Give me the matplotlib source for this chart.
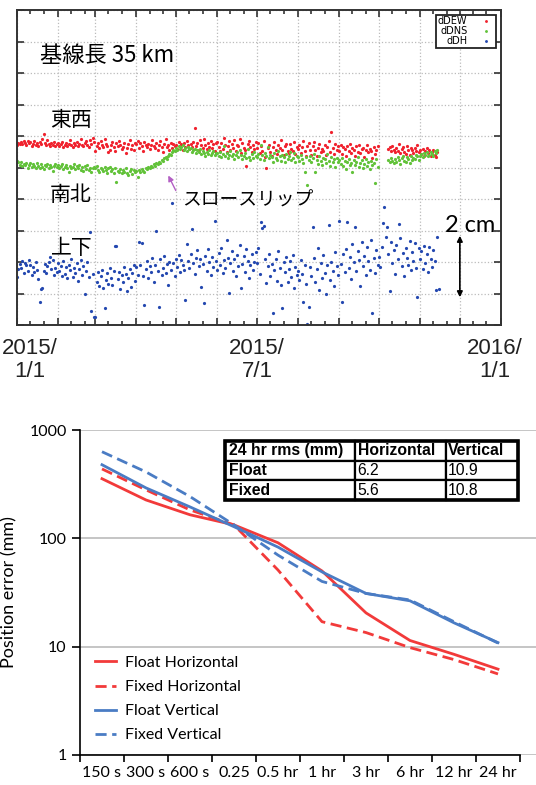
import numpy as np
import matplotlib
matplotlib.use("Agg")
import matplotlib.pyplot as plt
import matplotlib.dates as mdates
from matplotlib.patches import Rectangle
from matplotlib.ticker import FixedLocator, NullLocator, NullFormatter, FixedFormatter

nan = float("nan")

# ---- top panel: daily baseline components in mm (one inner list per month of 2015) ----
month_starts = ["2015-01-01", "2015-02-01", "2015-03-01", "2015-04-01", "2015-05-01", "2015-06-01",
                "2015-07-01", "2015-08-01", "2015-09-01", "2015-10-01", "2015-11-01"]

dew = [
    [57.2, 57.8, 57.4, 58.1, 57.6, 58.3, 57.9, 57.1, 58.5, 57.7, 58.0, 56.9, 57.5, 58.4, 57.3, 57.8,
     56.8, 58.2, 57.6, 59.1, 60.6, 57.9, 57.2, 58.6, 57.4, 56.7, 57.9, 57.3, 58.1, 56.9, 57.6],
    [57.8, 56.9, 57.4, 58.2, 56.6, 57.3, 57.9, 56.8, 57.5, 58.6, 57.1, 56.4, 57.7, 57.2, 58.0, 56.9,
     57.5, 59.0, 57.3, 56.7, 57.9, 58.4, 57.0, 56.5, 58.8, 57.6, 59.3, 58.1],
    [55.3, 56.9, 57.8, 56.2, 58.4, 57.1, 56.5, 59.2, 57.6, 56.8, 54.8, 55.6, 57.3, 58.0, 56.4, 55.1,
     57.7, 56.9, 58.3, 57.2, 55.9, 56.6, 57.9, 54.7, 56.3, 57.5, 58.6, 56.0, 57.1, 55.4, 57.8],
    [57.4, 58.5, 56.2, 57.9, 56.7, 55.3, 58.1, 57.0, 56.5, 57.6, 55.8, 57.3, 58.8, 56.9, 56.1, 57.7,
     55.5, 57.2, 58.3, 56.6, 54.9, 57.5, 58.9, 56.4, 57.1, 55.7, 57.8, 56.3, 57.4, 56.8],
    [57.2, 56.0, 58.1, 56.8, 57.5, 55.6, 57.9, 56.4, 58.3, 57.0, 55.9, 57.6, 56.5, 58.0, 62.5, 56.9,
     57.7, 55.4, 58.6, 57.3, 56.2, 58.9, 57.1, 55.8, 57.8, 56.6, 58.4, 56.1, 57.4, 55.3, 57.9],
    [58.2, 56.5, 55.1, 57.7, 56.0, 59.3, 57.2, 54.8, 56.9, 58.5, 55.6, 57.4, 56.2, 58.8, 55.3, 57.0,
     56.7, 59.1, 54.6, 57.8, 56.1, 55.4, 50.6, 57.5, 58.3, 56.4, 54.9, 57.1, 55.8, 58.0],
    [56.3, 57.9, 54.5, 56.8, 55.2, 58.4, 53.4, 49.8, 56.1, 57.3, 55.0, 53.8, 56.6, 58.1, 55.5, 54.2,
     57.0, 56.2, 58.7, 55.7, 53.9, 56.9, 57.6, 55.1, 54.7, 57.4, 56.0, 55.3, 58.2, 54.4, 56.5],
    [55.8, 57.2, 54.6, 56.4, 58.5, 55.1, 53.7, 56.7, 57.8, 55.4, 54.1, 56.9, 58.0, 55.6, 53.5, 56.3,
     57.5, 54.8, 56.0, 55.2, 57.1, 53.9, 56.6, 58.3, 55.0, 61.4, 56.2, 54.4, 57.4, 55.7, 56.8],
    [55.1, 57.0, 54.3, 56.5, 55.8, 53.6, 56.9, 55.2, 57.6, 54.7, 56.1, 55.5, 53.8, 56.7, 55.0, 57.3,
     54.5, 55.9, 56.3, 53.4, 55.6, 57.1, 54.9, 56.0, 55.3, 52.9, 56.4, 54.2, 55.7, 56.8],
    [nan, nan, nan, nan, nan, nan, nan, 55.8, 56.4, 55.1, 56.9, 55.6, 54.8, 56.2, 55.3, 57.4,
     54.6, 55.9, 56.5, 55.0, 54.2, 56.7, 55.4, 53.9, 56.1, 55.7, 54.5, 56.3, 55.2, 57.0, 54.9],
    [55.6, 54.3, 55.9, 53.8, 55.2, 56.1, 54.6, 55.4, 53.6, 54.9, 55.7, 54.1, 53.3, 55.0, nan],
]

dns = [
    [52.1, 51.6, 50.9, 51.8, 50.4, 51.2, 50.7, 51.5, 49.9, 50.8, 51.3, 50.2, 51.0, 50.6, 49.8, 51.4,
     50.5, 50.0, 51.1, 50.3, 49.6, 50.9, 50.4, 51.2, 49.9, 50.7, 50.1, 48.9, 50.6, 51.0, 50.2],
    [50.8, 49.7, 50.4, 51.1, 49.5, 50.3, 50.9, 49.9, 48.6, 50.6, 49.8, 50.2, 51.0, 49.4, 50.5, 49.9,
     50.7, 49.3, 50.1, 48.8, 50.4, 49.6, 50.9, 49.2, 50.0, 48.5, 49.7, 50.3],
    [49.8, 50.4, 49.1, 48.6, 50.0, 49.5, 48.9, 50.3, 49.2, 48.4, 49.7, 50.1, 48.8, 49.4, 48.2, 49.9,
     45.4, 49.0, 48.5, 49.6, 48.1, 49.3, 48.7, 49.8, 48.3, 47.6, 48.9, 49.4, 48.0, 49.1, 48.6],
    [48.8, 47.0, 49.3, 48.5, 49.6, 49.0, 48.7, 49.9, 49.4, 50.2, 49.8, 50.6, 50.1, 51.0, 50.5, 51.4,
     51.1, 51.9, 51.5, 52.4, 52.0, 52.9, 53.3, 52.8, 53.8, 54.3, 53.9, 54.8, 55.4, 55.1],
    [56.2, 55.6, 56.8, 55.9, 56.4, 57.0, 55.7, 56.3, 55.2, 56.6, 55.8, 56.1, 54.9, 55.5, 56.0, 54.6,
     55.4, 54.8, 55.9, 54.3, 55.2, 54.7, 53.8, 55.0, 54.4, 55.6, 53.9, 54.6, 55.1, 54.0, 54.7],
    [54.5, 53.6, 55.0, 53.2, 54.2, 56.8, 53.8, 54.7, 52.9, 54.1, 55.3, 53.5, 54.4, 52.6, 53.9, 54.8,
     53.3, 55.6, 54.0, 52.8, 53.7, 54.6, 53.1, 55.9, 53.4, 52.5, 54.3, 53.0, 54.9, 53.6],
    [53.2, 54.4, 52.7, 57.1, 53.9, 52.4, 54.6, 53.5, 56.6, 52.9, 54.1, 53.3, 51.8, 54.7, 53.0, 52.5,
     55.2, 53.8, 52.2, 54.0, 53.4, 51.6, 54.3, 52.8, 53.6, 55.0, 52.3, 53.1, 54.5, 51.9, 53.7],
    [53.4, 52.1, 54.0, 52.7, 51.5, 48.6, 53.2, 44.4, 52.5, 53.8, 51.9, 52.9, 54.2, 48.6, 52.3, 51.2,
     53.6, 52.0, 50.8, 53.1, 52.6, 51.4, 54.4, 52.2, 50.6, 53.3, 51.8, 52.8, 50.2, 53.0, 51.6],
    [52.4, 51.0, 53.1, 50.4, 52.0, 49.6, 51.7, 52.8, 50.9, 51.4, 48.5, 52.5, 50.7, 51.9, 53.2, 50.2,
     51.5, 52.3, 49.9, 51.1, 52.7, 50.5, 51.8, 49.4, 52.1, 50.8, 51.3, 45.0, 52.6, 50.3],
    [nan, nan, nan, nan, nan, nan, nan, 52.4, 51.6, 53.0, 52.2, 51.5, 52.8, 51.9, 53.4, 52.5,
     51.2, 52.9, 53.6, 52.1, 51.7, 53.3, 52.6, 51.4, 53.8, 52.3, 53.1, 52.7, 54.0, 53.5, 52.4],
    [53.7, 54.3, 53.2, 54.6, 53.9, 54.8, 53.5, 54.1, 55.0, 54.4, 53.8, 55.2, 54.7, 55.4, nan],
]

dh = [
    [15.2, 17.8, 19.4, 18.1, 20.2, 16.5, 19.7, 18.9, 17.3, 20.6, 19.0, 15.8, 18.4, 16.9, 19.9, 17.6,
     14.7, 7.3, 11.4, 11.8, 17.2, 19.3, 16.4, 18.7, 20.1, 21.5, 17.9, 20.6, 15.9, 18.2, 16.7],
    [19.6, 17.1, 18.8, 15.6, 20.3, 16.2, 18.5, 14.8, 19.2, 17.4, 21.0, 15.3, 18.0, 16.6, 19.8, 13.9,
     17.7, 20.7, 16.0, 18.6, 9.8, 17.2, 20.0, 15.1, 29.5, 4.4, 16.3, 2.5],
    [2.5, 13.8, 16.9, 12.4, 15.7, 17.6, 11.9, 5.4, 14.3, 16.4, 13.1, 18.2, 15.0, 12.7, 17.3, 25.0,
     25.1, 14.6, 16.8, 11.5, 15.9, 13.6, 18.5, 16.1, 10.8, 14.9, 17.8, 12.2, 16.5, 19.0, 14.1],
    [18.3, 16.0, 26.4, 19.2, 26.1, 15.4, 6.3, 17.9, 20.4, 14.8, 18.6, 16.7, 21.3, 13.5, 19.0, 29.8,
     17.1, 5.7, 20.8, 15.9, 18.2, 22.0, 16.4, 19.5, 12.8, 20.1, 17.6, 38.7, 19.8, 15.6],
    [21.0, 18.4, 22.3, 16.9, 20.6, 19.2, 17.5, 7.9, 25.7, 20.2, 18.0, 22.6, 30.5, 19.6, 16.3, 21.4,
     23.8, 18.8, 20.9, 12.0, 19.4, 7.0, 22.0, 17.2, 24.1, 19.9, 15.8, 21.7, 18.5, 33.0, 20.4],
    [17.6, 22.8, 19.1, 24.5, 16.4, 20.7, 18.2, 26.9, 21.3, 10.2, 19.8, 23.4, 17.0, 20.9, 15.6, 22.2,
     18.7, 25.3, 11.7, 19.4, 21.8, 16.8, 24.2, 20.3, 14.9, 18.9, 22.6, 17.4, 20.0, 23.1],
    [19.6, 24.4, 16.2, 32.6, 30.8, 31.4, 21.1, 13.2, 18.7, 22.5, 15.4, 19.3, 3.8, 17.5, 20.8, 14.0,
     23.6, 18.1, 12.6, 5.4, 19.9, 16.7, 21.7, 13.7, 17.9, 20.4, 15.1, 22.3, 11.9, 18.4, 16.0],
    [17.3, 14.2, 20.5, 16.1, 7.3, 19.2, 12.9, 0.3, 5.7, 18.3, 15.5, 31.0, 21.4, 13.6, 17.8, 24.6,
     11.2, 19.7, 15.0, 22.2, 16.6, 9.7, 18.9, 31.7, 14.4, 20.1, 17.1, 12.3, 23.3, 18.6, 15.8],
    [33.0, 19.4, 7.3, 22.6, 16.8, 24.1, 32.8, 18.2, 21.5, 14.7, 25.8, 19.9, 31.0, 17.3, 23.4, 20.6,
     12.4, 26.2, 18.7, 22.0, 15.9, 24.8, 20.3, 17.6, 27.1, 3.8, 21.2, 16.4, 23.7, 19.1],
    [21.6, 18.3, 24.9, 32.4, 37.5, 27.8, 31.0, 22.5, 10.8, 26.4, 19.7, 23.8, 16.2, 25.3, 20.9, 32.0,
     27.5, 18.6, 22.7, 15.4, 24.6, 21.3, 19.0, 26.7, 17.5, 23.2, 20.4, 25.9, 18.1, 9.0, 24.3],
    [20.8, 23.5, 17.9, 25.2, 19.6, 22.4, 16.8, 24.7, 21.1, 18.5, 23.9, 20.2, 11.1, 28.0, 11.4],
]

# ---- bottom panel: position error vs session length ----
sessions = ["150 s", "300 s", "600 s", "0.25", "0.5 hr", "1 hr", "3 hr", "6 hr", "12 hr", "24 hr"]
float_h = [355, 226, 165, 133, 91, 50, 20.5, 11.4, 8.5, 6.2]
fixed_h = [437, 280, 183, 133, 51, 17, 13.5, 9.8, 7.6, 5.6]
float_v = [478, 292, 195, 128, 83, 49, 31, 26.5, 16.6, 10.9]
fixed_v = [630, 410, 243, 133, 70, 40, 31, 27, 17, 10.8]
table_cells = [["24 hr rms (mm)", "Horizontal", "Vertical"],
               ["Float", "6.2", "10.9"],
               ["Fixed", "5.6", "10.8"]]

W, H = 536, 785
CJK = ["Noto Sans CJK JP", "DejaVu Sans"]
NARROW = ["Liberation Sans Narrow", "Liberation Sans", "DejaVu Sans"]
LATO = ["Lato", "DejaVu Sans"]
RED = "#f23a3a"
BLUE = "#4a7cc4"


def month_series(months):
    days, vals = [], []
    for start, month in zip(month_starts, months):
        d0 = np.datetime64(start)
        days.extend(d0 + np.arange(len(month)))
        vals.extend(month)
    return np.array(days), np.array(vals, dtype=float)


def px(x, y):
    return x / W, 1 - y / H


fig = plt.figure(figsize=(W / 100, H / 100), dpi=100)

# ================= top panel =================
ax1 = fig.add_axes([17 / W, 1 - 325 / H, 484 / W, 315 / H])
for series, color, name in [(dew, "#f0222e", "dDEW"), (dns, "#62c23a", "dDNS"), (dh, "#2448b0", "dDH")]:
    d, v = month_series(series)
    ax1.plot(d, v, "o", ms=2.3, mew=0, color=color, label=name)

ax1.set_xlim(np.datetime64("2015-01-01"), np.datetime64("2016-01-01"))
ax1.set_ylim(0, 100)
ax1.xaxis.set_major_locator(mdates.MonthLocator())
ax1.xaxis.set_minor_locator(mdates.DayLocator(bymonthday=[11, 21]))
ax1.xaxis.set_major_formatter(NullFormatter())
ax1.set_yticks(np.arange(0, 101, 10))
ax1.yaxis.set_major_formatter(NullFormatter())
ax1.tick_params(which="both", direction="in", top=True, right=True, color="#333333", width=1.2)
ax1.tick_params(which="major", length=5)
ax1.tick_params(which="minor", length=3)
ax1.grid(True, which="major", linestyle=":", color="#bbbbbb", lw=0.9)
for s in ax1.spines.values():
    s.set_color("#333333")
    s.set_linewidth(1.4)

leg = ax1.legend(loc="upper right", bbox_to_anchor=(0.9897, 0.984), borderaxespad=0,
                 markerfirst=False, fontsize=7, handlelength=1.8, handletextpad=1.0,
                 borderpad=0.15, labelspacing=0.0, fancybox=False, edgecolor="#222222",
                 framealpha=1, markerscale=0.9)
leg.get_frame().set_linewidth(1.3)

ax1.text(0.0475, 0.857, "基線長 35 km", transform=ax1.transAxes, fontsize=16,
         family=CJK, va="center", ha="left")
ax1.text(0.068, 0.651, "東西", transform=ax1.transAxes, fontsize=15, family=CJK, va="center")
ax1.text(0.068, 0.413, "南北", transform=ax1.transAxes, fontsize=15, family=CJK, va="center")
ax1.text(0.070, 0.244, "上下", transform=ax1.transAxes, fontsize=15, family=CJK, va="center")
ax1.text(0.341, 0.397, "スロースリップ", transform=ax1.transAxes, fontsize=13.5, family=CJK,
         va="center")
ax1.annotate("", xy=(0.31, 0.4825), xytext=(0.3306, 0.419), xycoords="axes fraction",
             arrowprops=dict(arrowstyle="-|>", color="#b35fc4", lw=1, mutation_scale=8))
ax1.annotate("", xy=(0.915, 0.292), xytext=(0.915, 0.0794), xycoords="axes fraction",
             arrowprops=dict(arrowstyle="<|-|>", color="black", lw=1.2, mutation_scale=8))
fig.text(*px(445, 226), "2 cm", fontsize=17, family=LATO, va="center", ha="left")

for xc, label in [(30, "2015/\n1/1"), (257, "2015/\n7/1"), (495, "2016/\n1/1")]:
    fig.text(*px(xc, 360), label, fontsize=16, family=NARROW, ha="center", va="center",
             multialignment="center", linespacing=1.15, color="#222222")

# ================= bottom panel =================
ax2 = fig.add_axes([80 / W, 1 - 755 / H, 456 / W, 325 / H])
x = np.arange(len(sessions))
ax2.plot(x, float_h, color=RED, lw=2.0, label="Float Horizontal")
ax2.plot(x, fixed_h, color=RED, lw=2.0, ls=(0, (4, 2)), label="Fixed Horizontal")
ax2.plot(x, float_v, color=BLUE, lw=2.0, label="Float Vertical")
ax2.plot(x, fixed_v, color=BLUE, lw=2.0, ls=(0, (4, 2)), label="Fixed Vertical")

ax2.set_yscale("log")
ax2.set_ylim(1, 1000)
ax2.set_xlim(-0.5, -0.5 + 456 / 44)
ax2.yaxis.set_major_locator(FixedLocator([1, 10, 100, 1000]))
ax2.yaxis.set_major_formatter(FixedFormatter(["1", "10", "100", "1000"]))
ax2.yaxis.set_minor_locator(NullLocator())
ax2.xaxis.set_major_locator(FixedLocator(np.arange(-0.5, len(sessions), 1.0)))
ax2.xaxis.set_major_formatter(NullFormatter())
ax2.xaxis.set_minor_locator(FixedLocator(x))
ax2.xaxis.set_minor_formatter(FixedFormatter(sessions))
ax2.tick_params(axis="x", which="minor", length=0, labelsize=11.5, pad=8)
ax2.tick_params(axis="x", which="major", length=5, width=1.2, direction="out")
ax2.tick_params(axis="y", which="major", length=6, width=1.2, labelsize=11.5)
for lab in ax2.get_xticklabels(minor=True) + ax2.get_yticklabels():
    lab.set_family(LATO)
ax2.grid(True, axis="y", color="#b5b5b5", lw=1.1)
for side in ["top", "right"]:
    ax2.spines[side].set_visible(False)
ax2.spines["bottom"].set_bounds(-0.5, len(sessions) - 0.5)
ax2.spines["left"].set_linewidth(1.2)
ax2.spines["bottom"].set_linewidth(1.2)
ax2.set_ylabel("Position error (mm)", fontsize=13, family=LATO)
ax2.yaxis.set_label_coords((17 - 80) / 456, 0.5)

leg2 = ax2.legend(loc="upper left", bbox_to_anchor=(0.033, 0.305), frameon=False,
                  prop={"family": LATO, "size": 11.5}, handlelength=1.3,
                  handletextpad=0.6, labelspacing=0.62, borderpad=0, borderaxespad=0)

# rms table
tb = [(225 - 80) / 456, (755 - 500) / 325, (518 - 225) / 456, 59 / 325]
table = ax2.table(cellText=table_cells, colWidths=[130, 91, 72], cellLoc="left",
                  bbox=tb)
table.auto_set_font_size(False)
for (r, c), cell in table.get_celld().items():
    cell.set_linewidth(1.6)
    cell.set_edgecolor("black")
    cell.PAD = 0.03
    t = cell.get_text()
    t.set_fontsize(11.3)
    t.set_family(["Liberation Sans", "DejaVu Sans"])
    if r == 0 or c == 0:
        t.set_fontweight("bold")
ax2.add_patch(Rectangle((tb[0], tb[1]), tb[2], tb[3], transform=ax2.transAxes, fill=False,
                        lw=2.6, edgecolor="black", zorder=5, clip_on=False))

fig.savefig("out.png", dpi=100)
